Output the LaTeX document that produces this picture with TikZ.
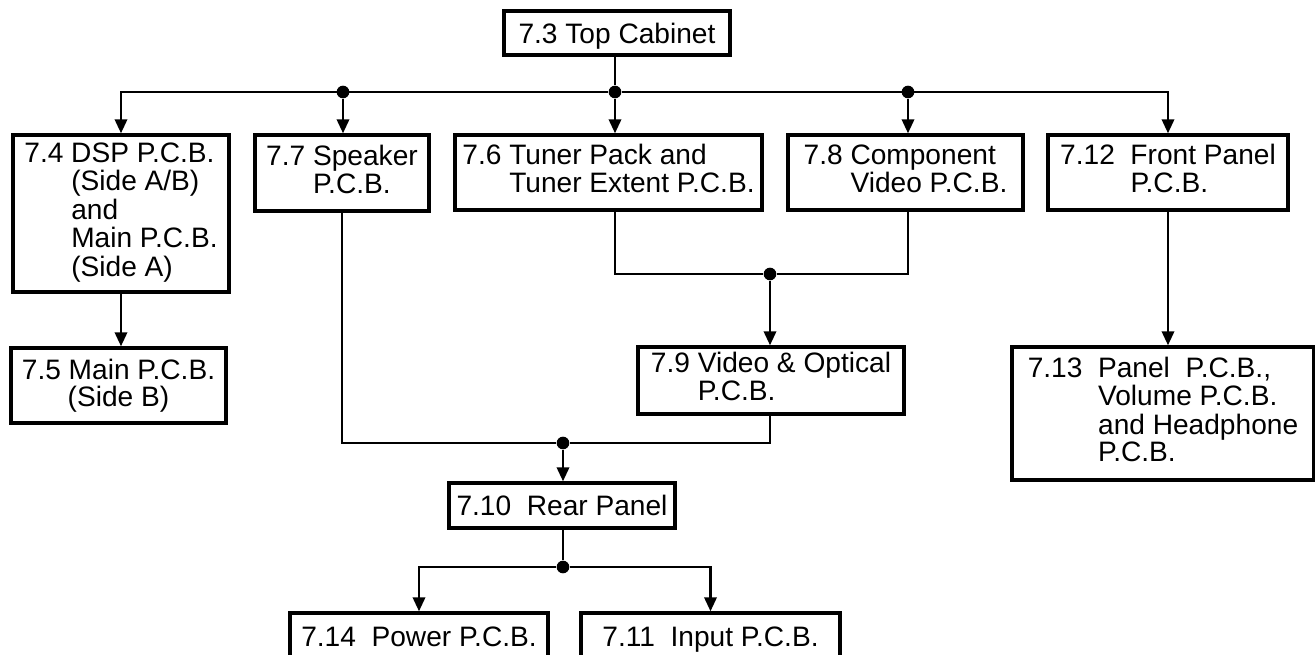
\documentclass[tikz,border=0pt]{standalone}
\usepackage{fontspec}
\setmainfont{Liberation Sans}
\usetikzlibrary{arrows.meta,positioning}
\tikzset{
  partbox/.style={draw, line width=1.9pt, align=center, inner sep=0pt,
    font=\fontsize{16}{15.2}\selectfont},
  onebox/.style={partbox, text depth=0pt},
  boxsize/.style 2 args={minimum width=#1*0.02cm, minimum height=#2*0.02cm},
  wire/.style={line width=1.5pt},
  arr/.style={wire, -{Triangle[length=8pt, width=7pt]}},
  dot/.style={circle, fill, inner sep=0pt, minimum size=7.2pt}
}

\begin{document}
\begin{tikzpicture}[x=0.02cm, y=-0.02cm]
  \useasboundingbox (0,0) rectangle (1315,654);
  \node[onebox, boxsize={226}{44}] (top) at (617,33) {7.3 Top Cabinet};
  \node[partbox, boxsize={216}{157}] (dsp) at (121,213.5) {\begin{tabular}{@{}l@{\ }l@{}}7.4 & DSP P.C.B.\\ & (Side A/B)\\ & and\\ & Main P.C.B.\\ & (Side A)\end{tabular}};
  \node[partbox, boxsize={174}{76}] (spk) at (342,173) {\begin{tabular}{@{}l@{\ }l@{}}7.7 & Speaker\\ & P.C.B.\end{tabular}};
  \node[partbox, boxsize={307}{75}] (tuner) at (608.5,172.5) {\begin{tabular}{@{}l@{\ }l@{}}7.6 & Tuner Pack and\\ & Tuner Extent P.C.B.\end{tabular}};
  \node[partbox, boxsize={235}{75}] (comp) at (905.5,172.5) {\begin{tabular}{@{}l@{\ }l@{}}7.8 & Component\\ & Video P.C.B.\end{tabular}};
  \node[partbox, boxsize={240}{75}] (front) at (1168,172.5) {\begin{tabular}{@{}l@{\ \ }l@{}}7.12 & Front Panel\\ & P.C.B.\end{tabular}};
  \node[partbox, boxsize={215}{75}] (mainb) at (118.5,385.5) {7.5 Main P.C.B.\\(Side B)};
  \node[partbox, boxsize={266}{67}] (video) at (771,380.5) {\begin{tabular}{@{}l@{\ }l@{}}7.9 & Video \& Optical\\ & P.C.B.\end{tabular}};
  \node[partbox, boxsize={302}{133}] (panel) at (1163,413.5) {\begin{tabular}{@{}l@{\ \ }l@{}}7.13 & Panel\ \ P.C.B.,\\ & Volume P.C.B.\\ & and Headphone\\ & P.C.B.\end{tabular}};
  \node[onebox, boxsize={226}{45}] (rear) at (562,505.5) {7.10\ \ Rear Panel};
  \node[onebox, boxsize={258}{47}] (power) at (419,636.5) {7.14\ \ Power P.C.B.};
  \node[onebox, boxsize={259}{47}] (input) at (710.5,636.5) {7.11\ \ Input P.C.B.};

  \node[dot] (j1) at (343,92) {};
  \node[dot] (j2) at (615,92) {};
  \node[dot] (j3) at (908,92) {};
  \node[dot] (j4) at (770,274) {};
  \node[dot] (j5) at (563,443) {};
  \node[dot] (j6) at (563,567) {};

  \draw[wire] (j2 |- top.south) -- (j2);
  \draw[arr] (j2) -| (dsp);
  \draw[arr] (j2) -| (front);
  \draw[arr] (j1) -- (j1 |- spk.north);
  \draw[arr] (j2) -- (j2 |- tuner.north);
  \draw[arr] (j3) -- (j3 |- comp.north);
  \draw[wire] (j2 |- tuner.south) |- (j4) -| (j3 |- comp.south);
  \draw[arr] (j4) -- (j4 |- video.north);
  \draw[wire] (spk) |- (j5);
  \draw[wire] (j4 |- video.south) |- (j5);
  \draw[arr] (j5) -- (j5 |- rear.north);
  \draw[wire] (j6 |- rear.south) -- (j6);
  \draw[arr] (j6) -| (power);
  \draw[arr] (j6) -| (input);
  \draw[arr] (dsp) -- (dsp.south |- mainb.north);
  \draw[arr] (front) -- (front.south |- panel.north);
\end{tikzpicture}
\end{document}
